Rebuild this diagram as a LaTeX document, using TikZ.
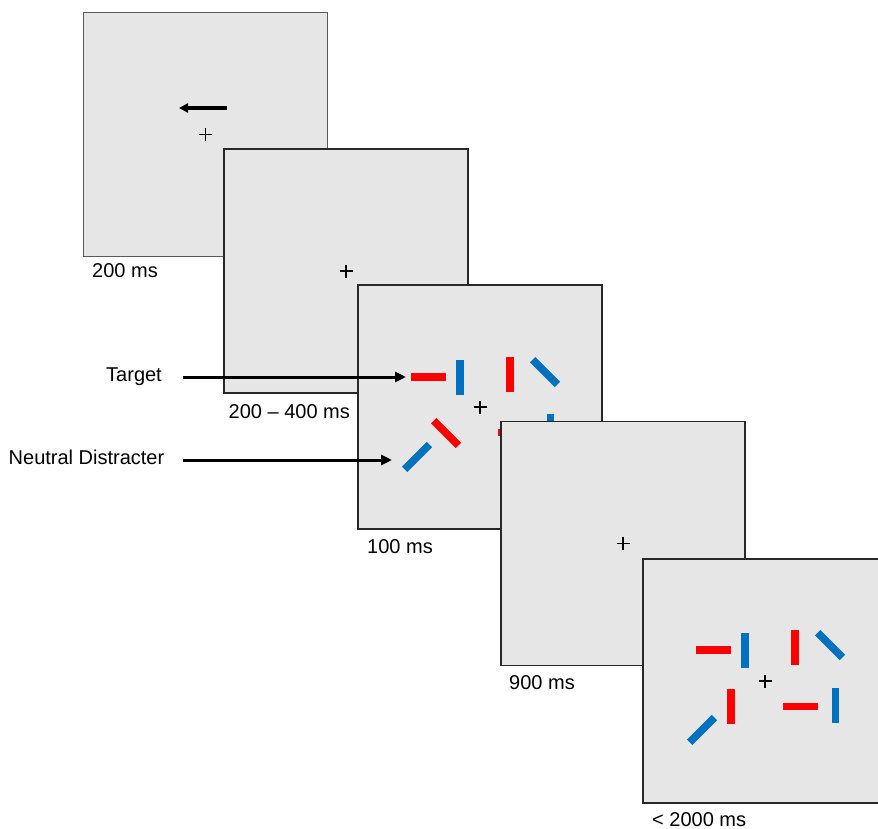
\documentclass[tikz,border=0pt]{standalone}
\usepackage{fontspec}
\setmainfont{Liberation Sans}
\usetikzlibrary{arrows.meta}
\definecolor{panelfill}{RGB}{230,230,230}
\definecolor{barred}{RGB}{255,0,0}
\definecolor{barblue}{RGB}{0,112,192}
\definecolor{edgedark}{RGB}{40,40,40}
\definecolor{edgegray}{RGB}{90,90,90}
\tikzset{
  panel/.style={draw=edgedark, fill=panelfill, line width=1.2pt, minimum size=244pt, inner sep=0pt, outer sep=0pt},
  bar/.style={minimum width=35pt, minimum height=7.5pt, inner sep=0pt, outer sep=0pt, draw=none},
  rbar/.style={bar, fill=barred},
  bbar/.style={bar, fill=barblue},
  lbl/.style={anchor=base west, inner sep=0pt, font=\fontsize{20}{24}\selectfont},
  fixline/.style={line width=1.2pt, black},
  arr/.style={line width=3pt, -{Triangle[length=11pt,width=10pt]}},
}
\newcommand{\fixcross}[1]{\draw[fixline] ([xshift=-6.5pt]#1) -- ([xshift=6.5pt]#1); \draw[fixline] ([yshift=-6.5pt]#1) -- ([yshift=6.5pt]#1);}
\begin{document}
\begin{tikzpicture}[x=1pt,y=-1pt]
\useasboundingbox (0,0) rectangle (878,829);
\clip (0,0) rectangle (878,829);
% panel 1
\node[panel, draw=edgegray] (p1) at (205.5,134.5) {};
\fixcross{p1.center}
\coordinate (a1s) at (227,108);
\coordinate (a1e) at (179,108);
\draw[line width=3.4pt, -{Triangle[length=9pt,width=9pt]}] (a1s) -- (a1e);
\node[lbl] (l1) at (92,277) {200 ms};
% panel 2
\node[panel] (p2) at (346,271) {};
\fixcross{p2.center}
\node[lbl] (l2) at (228.5,418) {200 -- 400 ms};
% panel 3
\node[panel] (p3) at (480,407) {};
\fixcross{p3.center}
\node[rbar] (p3a) at (428,377) {};
\node[bbar, rotate=90] (p3b) at (460,377) {};
\node[rbar, rotate=90] (p3c) at (510,374) {};
\node[bbar, rotate=-45] (p3d) at (545,372) {};
\node[rbar, rotate=-45] (p3e) at (446,433) {};
\node[bbar, rotate=45] (p3f) at (417,457) {};
\node[rbar] (p3g) at (515,432.5) {};
\node[bbar, rotate=90] (p3h) at (550.5,431.5) {};
\node[lbl] (l3) at (367,553) {100 ms};
% panel 4
\node[panel] (p4) at (623,543.5) {};
\fixcross{p4.center}
\node[lbl] (l4) at (509,689) {900 ms};
% panel 5
\node[panel] (p5) at (765,681) {};
\fixcross{p5.center}
\node[rbar] (p5a) at (713,650) {};
\node[bbar, rotate=90] (p5b) at (745,650) {};
\node[rbar, rotate=90] (p5c) at (795,647.5) {};
\node[bbar, rotate=-45] (p5d) at (830,645) {};
\node[rbar, rotate=90] (p5e) at (731,706) {};
\node[bbar, rotate=45] (p5f) at (702,730) {};
\node[rbar] (p5g) at (800,706.5) {};
\node[bbar, rotate=90] (p5h) at (835.5,705.5) {};
\node[lbl, text depth=0pt] (l5) at (652,826) {< 2000 ms};
% pointer labels
\node[lbl] (tgt) at (106,381.5) {Target};
\node[lbl] (nd) at (8.5,464) {Neutral Distracter};
\coordinate (tgtS) at (183,377);
\coordinate (tgtE) at (406,377);
\coordinate (ndS) at (183,460);
\coordinate (ndE) at (392,460);
\draw[arr] (tgtS) -- (tgtE);
\draw[arr] (ndS) -- (ndE);
\end{tikzpicture}
\end{document}
